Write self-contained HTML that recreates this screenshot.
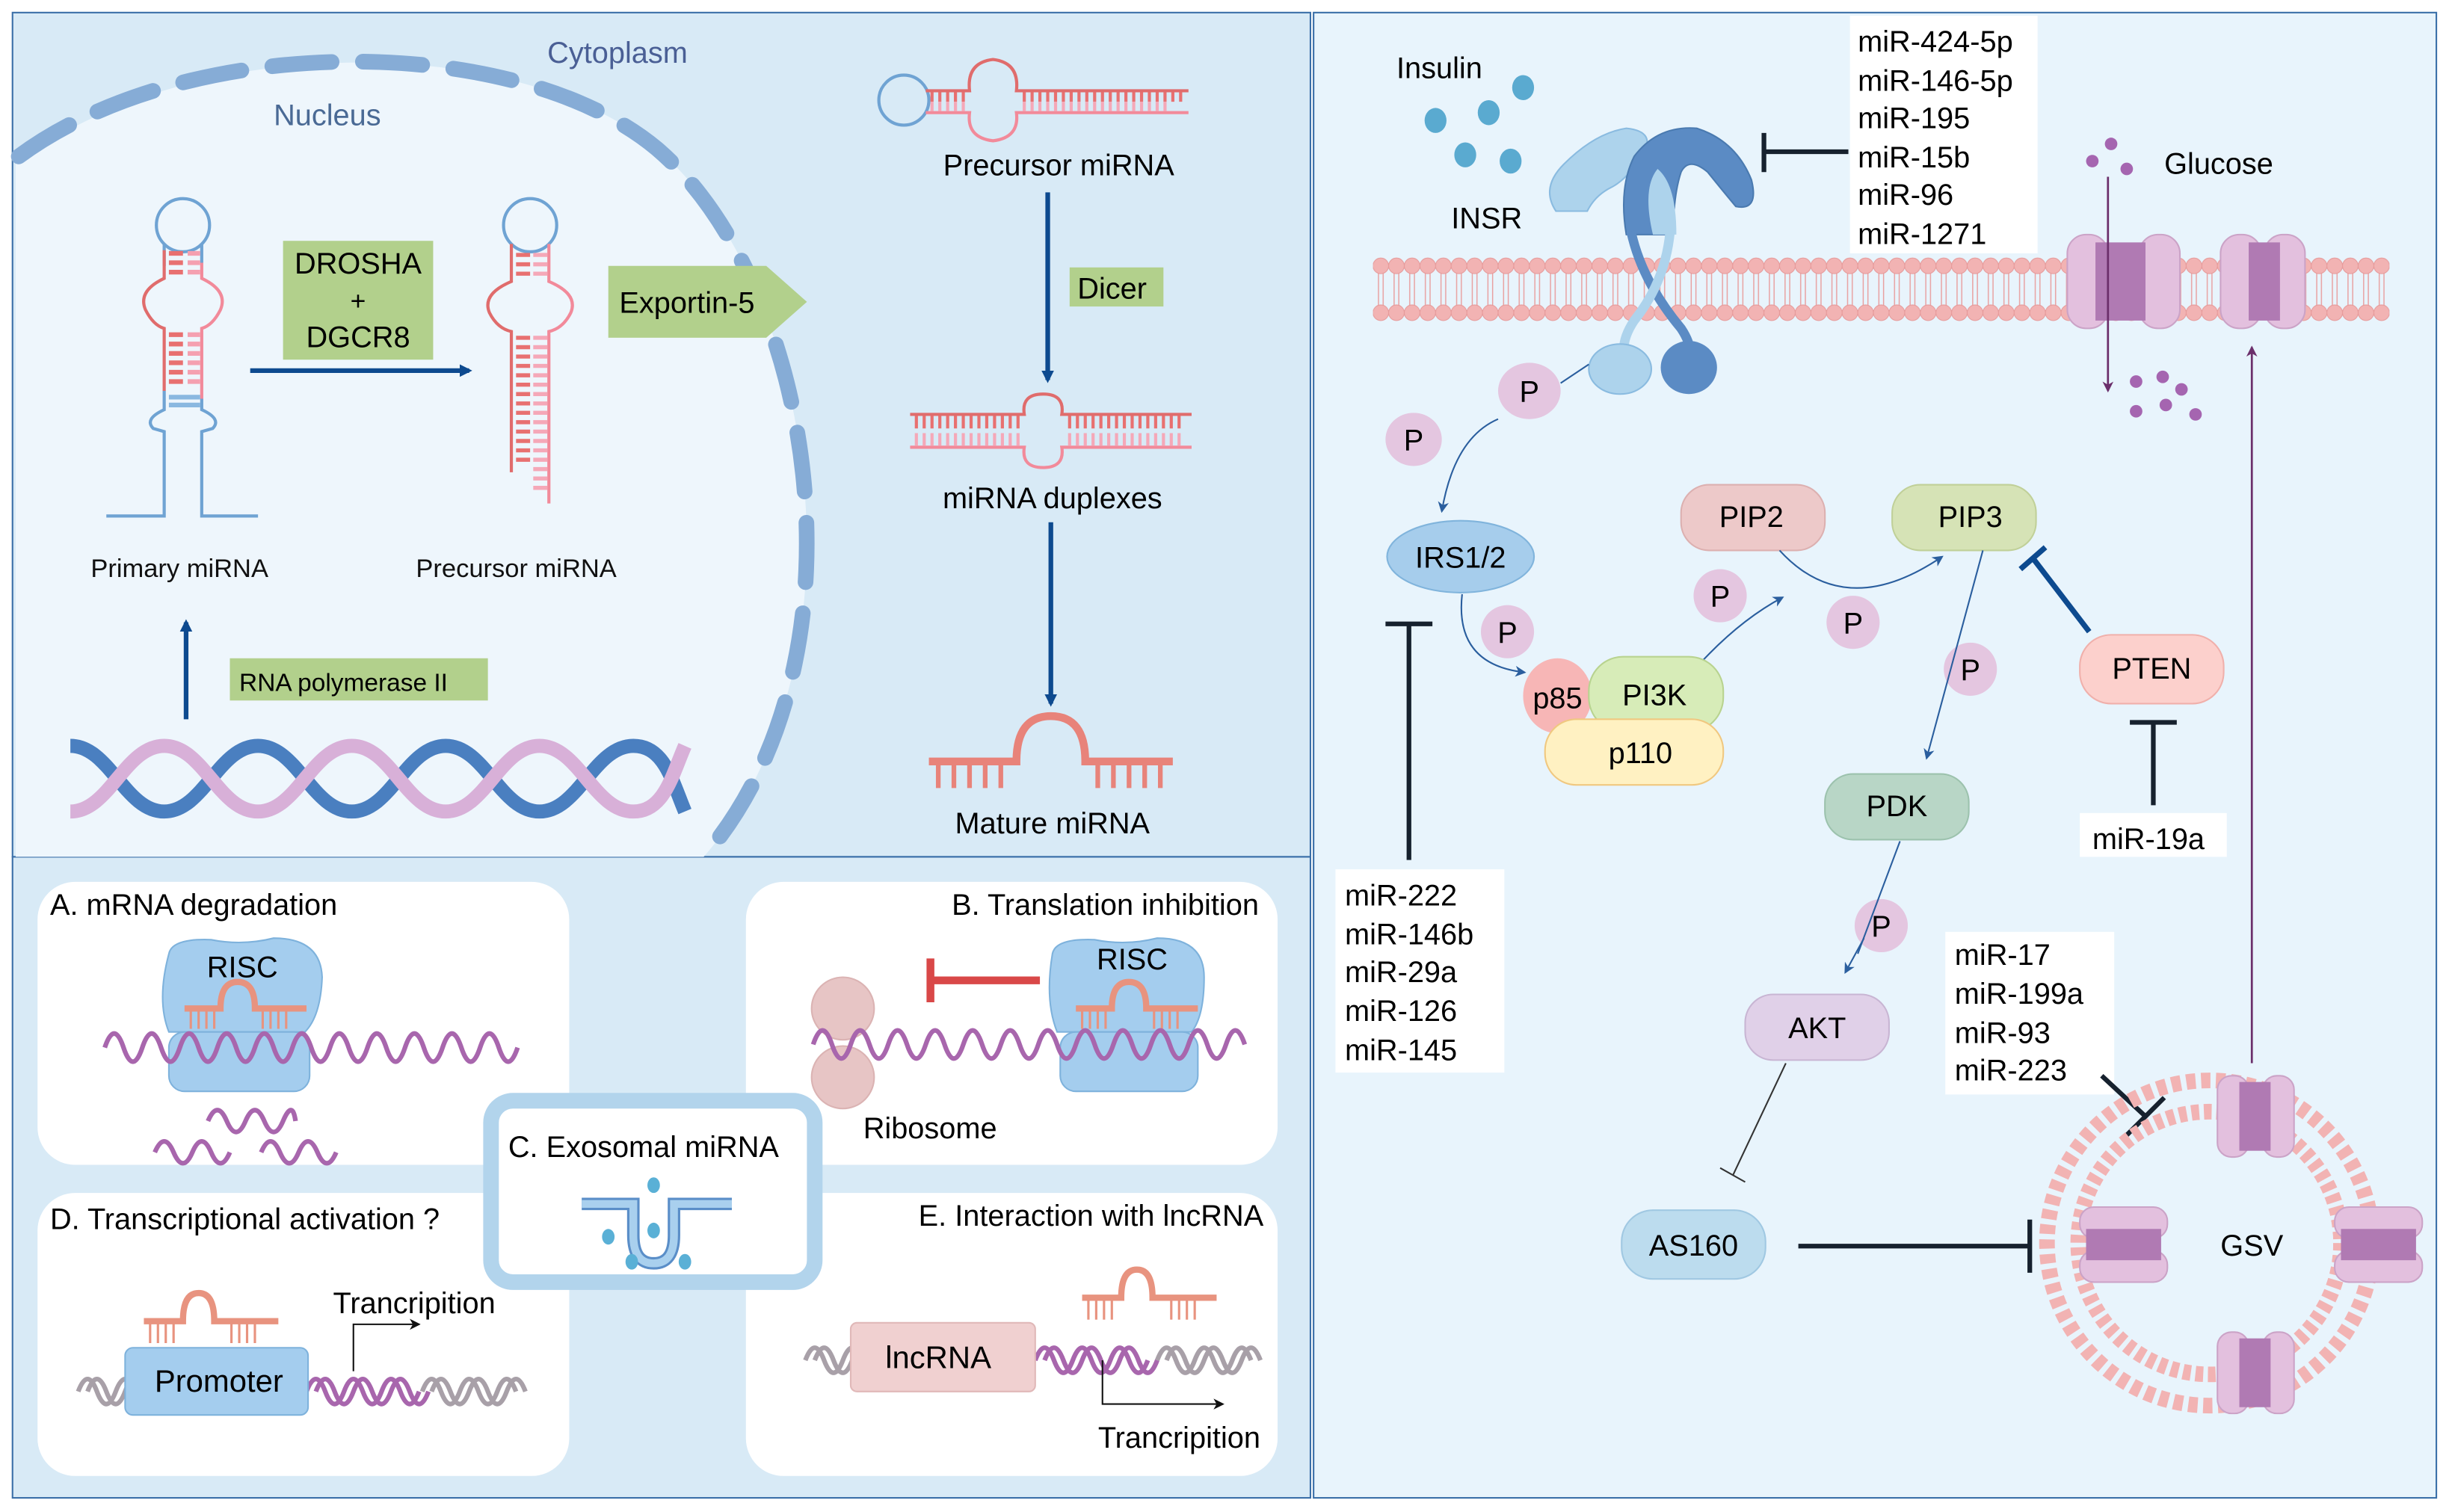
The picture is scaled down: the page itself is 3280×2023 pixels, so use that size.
<!DOCTYPE html>
<html><head><meta charset="utf-8"><style>
html,body{margin:0;padding:0;background:#fff}
svg{display:block}
text{font-family:"Liberation Sans",Arial,sans-serif}
</style></head><body>
<svg width="3280" height="2023" viewBox="0 0 1568 967" xmlns="http://www.w3.org/2000/svg">
<defs>
<pattern id="mem" x="878" y="0" width="10" height="967" patternUnits="userSpaceOnUse">
<line x1="3.5" y1="170" x2="3.5" y2="200" stroke="#e8a0a0" stroke-width="0.7"/>
<line x1="6.5" y1="170" x2="6.5" y2="200" stroke="#e8a0a0" stroke-width="0.7"/>
<circle cx="5" cy="170" r="5" fill="#f2b3b3" stroke="#e69a9a" stroke-width="0.5"/>
<circle cx="5" cy="200" r="5" fill="#f2b3b3" stroke="#e69a9a" stroke-width="0.5"/>
</pattern>
<marker id="ab" markerWidth="8" markerHeight="8" refX="6" refY="4" orient="auto" markerUnits="userSpaceOnUse"><path d="M0,0 L8,4 L0,8 z" fill="#0d4a8f"/></marker>
<marker id="as" markerWidth="7" markerHeight="7" refX="6" refY="3.5" orient="auto" markerUnits="userSpaceOnUse"><path d="M0,0 L7,3.5 L0,7 L2,3.5z" fill="#2a5e9e"/></marker>
<marker id="ap" markerWidth="7" markerHeight="7" refX="6" refY="3.5" orient="auto" markerUnits="userSpaceOnUse"><path d="M0,0 L7,3.5 L0,7 L2,3.5z" fill="#6b2f6b"/></marker>
<marker id="ak" markerWidth="7" markerHeight="7" refX="6" refY="3.5" orient="auto" markerUnits="userSpaceOnUse"><path d="M0,0 L7,3.5 L0,7 L2,3.5z" fill="#111"/></marker>
</defs>

<rect x="8" y="8" width="830" height="540" fill="#d8eaf6" stroke="#3a6fa8" stroke-width="1"/>
<rect x="8" y="548" width="830" height="410" fill="#d8eaf6" stroke="#3a6fa8" stroke-width="1"/>
<rect x="840" y="8" width="718" height="950" fill="#e8f4fc" stroke="#3a6fa8" stroke-width="1"/>

<path d="M10,105 C120,20 330,20 420,95 C520,180 560,420 450,548 L10,548 Z" fill="#eef6fc"/>
<path d="M12,100 C120,20 330,20 420,95 C520,180 560,420 450,548" fill="none" stroke="#86acd6" stroke-width="10" stroke-linecap="round" stroke-dasharray="38 20"/>
<text x="350" y="40" font-size="19" fill="#4a5f95">Cytoplasm</text>
<text x="175" y="80" font-size="19" fill="#4a6a95">Nucleus</text>

<g fill="none" stroke-width="2">
<circle cx="117" cy="144" r="17" stroke="#6fa3d3" fill="#eef6fc"/>
<path d="M105,156 V170 M129,156 V168" stroke="#6fa3d3"/>
<path d="M105,160 V178 Q88,186 93,198 Q98,208 105,210 V250" stroke="#e06c6c"/>
<path d="M129,168 V178 Q146,186 141,198 Q136,208 129,210 V255" stroke="#f28a9a"/>
<path d="M105,250 V262 Q92,268 98,274 L105,276 V330 H68 M129,255 V262 Q142,268 136,274 L129,276 V330 H165" stroke="#6fa3d3"/>
</g>
<g stroke="#e87070" stroke-width="3"><path d="M108,162h9M108,168h9M108,174h9M108,214h9M108,220h9M108,226h9M108,232h9M108,238h9M108,244h9"/></g>
<g stroke="#f5a0b0" stroke-width="3"><path d="M120,162h8M120,168h8M120,174h8M120,214h8M120,220h8M120,226h8M120,232h8M120,238h8M120,244h8"/></g>
<g stroke="#8ab8e0" stroke-width="3"><path d="M108,254h20M108,259h20"/></g>
<text x="58" y="369" font-size="16.5" fill="#111">Primary miRNA</text>

<rect x="181" y="154" width="96" height="76" fill="#b2d08c"/>
<text x="229" y="175" font-size="19" text-anchor="middle">DROSHA</text>
<text x="229" y="198" font-size="17" text-anchor="middle">+</text>
<text x="229" y="222" font-size="19" text-anchor="middle">DGCR8</text>
<line x1="160" y1="237" x2="300" y2="237" stroke="#0d4a8f" stroke-width="3" marker-end="url(#ab)"/>

<g fill="none" stroke-width="2">
<circle cx="339" cy="144" r="17" stroke="#6fa3d3" fill="#eef6fc"/>
<path d="M327,156 V180 Q308,188 313,200 Q318,210 327,212 V302" stroke="#e06c6c"/>
<path d="M351,156 V180 Q370,188 365,200 Q360,210 351,212 V322" stroke="#f28a9a"/>
</g>
<g stroke="#e87070" stroke-width="2.6"><path d="M330,163h9M330,169h9M330,175h9"/><path d="M330,216h9M330,222h9M330,228h9M330,234h9M330,240h9M330,246h9M330,252h9M330,258h9M330,264h9M330,270h9M330,276h9M330,282h9M330,288h9M330,294h9"/></g>
<g stroke="#f5a8b8" stroke-width="2.6"><path d="M341,163h9M341,169h9M341,175h9"/><path d="M341,216h9M341,222h9M341,228h9M341,234h9M341,240h9M341,246h9M341,252h9M341,258h9M341,264h9M341,270h9M341,276h9M341,282h9M341,288h9M341,294h9M341,300h9M341,306h9M341,312h9"/></g>
<text x="266" y="369" font-size="16.5" fill="#111">Precursor miRNA</text>

<path d="M389,170 H490 L516,193 L490,216 H389 Z" fill="#b2d08c"/>
<text x="396" y="200" font-size="19">Exportin-5</text>

<line x1="119" y1="460" x2="119" y2="398" stroke="#0d4a8f" stroke-width="3" marker-end="url(#ab)"/>
<rect x="147" y="421" width="165" height="27" fill="#b2d08c"/>
<text x="153" y="442" font-size="16">RNA polymerase  II</text>

<g fill="none" stroke-width="9">
<path d="M45,477 C70,477 80,519 105,519 C130,519 140,477 165,477 C190,477 200,519 225,519 C250,519 260,477 285,477 C310,477 320,519 345,519 C370,519 380,477 405,477 C425,477 430,500 438,519" stroke="#4a7fc0"/>
<path d="M45,519 C70,519 80,477 105,477 C130,477 140,519 165,519 C190,519 200,477 225,477 C250,477 260,519 285,519 C310,519 320,477 345,477 C370,477 380,519 405,519 C425,519 430,495 438,477" stroke="#d8b0d8"/>
</g>

<g fill="none" stroke-width="2">
<circle cx="578" cy="64" r="16" stroke="#6fa3d3"/>
<path d="M592,58 H620 Q618,40 635,38 Q652,40 650,58 H760" stroke="#e06c6c"/>
<path d="M592,72 H620 Q618,88 635,90 Q652,88 650,72 H760" stroke="#f28a9a"/>
</g>
<g stroke="#e87070" stroke-width="2"><path d="M596,59v6M601,59v6M606,59v6M611,59v6M616,59v6M655,59v6M660,59v6M665,59v6M670,59v6M675,59v6M680,59v6M685,59v6M690,59v6M695,59v6M700,59v6M705,59v6M710,59v6M715,59v6M720,59v6M725,59v6M730,59v6M735,59v6M740,59v6M745,59v6M750,59v6M755,59v6"/></g>
<g stroke="#f5a8b8" stroke-width="2"><path d="M596,65v6M601,65v6M606,65v6M611,65v6M616,65v6M655,65v6M660,65v6M665,65v6M670,65v6M675,65v6M680,65v6M685,65v6M690,65v6M695,65v6M700,65v6M705,65v6M710,65v6M715,65v6M720,65v6M725,65v6M730,65v6M735,65v6M740,65v6M745,65v6"/></g>
<text x="677" y="112" font-size="19" text-anchor="middle">Precursor miRNA</text>
<line x1="670" y1="123" x2="670" y2="243" stroke="#0d4a8f" stroke-width="3" marker-end="url(#ab)"/>
<rect x="684" y="171" width="60" height="25" fill="#b2d08c"/>
<text x="689" y="191" font-size="19">Dicer</text>
<g fill="none" stroke-width="2">
<path d="M582,265 H655 Q653,252 667,252 Q681,252 679,265 H762" stroke="#e06c6c"/>
<path d="M582,286 H655 Q653,299 667,299 Q681,299 679,286 H762" stroke="#f28a9a"/>
</g>
<g stroke="#e87070" stroke-width="2"><path d="M586,266v8M591,266v8M596,266v8M601,266v8M606,266v8M611,266v8M616,266v8M621,266v8M626,266v8M631,266v8M636,266v8M641,266v8M646,266v8M651,266v8M684,266v8M689,266v8M694,266v8M699,266v8M704,266v8M709,266v8M714,266v8M719,266v8M724,266v8M729,266v8M734,266v8M739,266v8M744,266v8M749,266v8M754,266v8"/></g>
<g stroke="#f5a8b8" stroke-width="2"><path d="M586,277v8M591,277v8M596,277v8M601,277v8M606,277v8M611,277v8M616,277v8M621,277v8M626,277v8M631,277v8M636,277v8M641,277v8M646,277v8M651,277v8M684,277v8M689,277v8M694,277v8M699,277v8M704,277v8M709,277v8M714,277v8M719,277v8M724,277v8M729,277v8M734,277v8M739,277v8M744,277v8M749,277v8M754,277v8"/></g>
<text x="673" y="325" font-size="19" text-anchor="middle">miRNA duplexes</text>
<line x1="672" y1="334" x2="672" y2="450" stroke="#0d4a8f" stroke-width="3" marker-end="url(#ab)"/>
<path d="M594,487 H650 Q650,458 672,458 Q694,458 694,487 H750" fill="none" stroke="#e8837a" stroke-width="5"/>
<g stroke="#e8837a" stroke-width="3"><path d="M600,489v15M610,489v15M620,489v15M630,489v15M640,489v15M702,489v15M712,489v15M722,489v15M732,489v15M742,489v15"/></g>
<text x="673" y="533" font-size="19" text-anchor="middle">Mature miRNA</text>

<rect x="24" y="564" width="340" height="181" rx="24" fill="#fff"/>
<rect x="477" y="564" width="340" height="181" rx="24" fill="#fff"/>
<rect x="24" y="763" width="340" height="181" rx="24" fill="#fff"/>
<rect x="477" y="763" width="340" height="181" rx="24" fill="#fff"/>
<rect x="314" y="704" width="207" height="116" rx="14" fill="#fff" stroke="#b2d4ec" stroke-width="10"/>
<text x="32" y="585" font-size="19">A. mRNA degradation</text>
<text x="805" y="585" font-size="19" text-anchor="end">B. Translation inhibition</text>
<text x="325" y="740" font-size="19">C. Exosomal miRNA</text>
<text x="32" y="786" font-size="19">D. Transcriptional activation ?</text>
<text x="808" y="784" font-size="19" text-anchor="end">E. Interaction with lncRNA</text>

<path d="M108,610 Q110,600 135,601 Q155,605 175,600 Q205,600 206,625 Q205,650 195,660 L108,660 Q100,640 108,610Z" fill="#a4cdee" stroke="#7eb2dc"/>
<rect x="108" y="660" width="90" height="38" rx="10" fill="#a4cdee" stroke="#7eb2dc"/>
<text x="155" y="625" font-size="19" text-anchor="middle">RISC</text>
<path d="M118,645 H141 Q141,628 152,628 Q163,628 163,645 H196" fill="none" stroke="#e8937f" stroke-width="4"/>
<g stroke="#e8937f" stroke-width="1.5"><path d="M122,646v12M127,646v12M132,646v12M137,646v12M168,646v12M173,646v12M178,646v12M183,646v12"/></g>
<path d="M67,670 q6,-18 12,0 t12,0 t12,0 t12,0 t12,0 t12,0 t12,0 t12,0 t12,0 t12,0 t12,0 t12,0 t12,0 t12,0 t12,0 t12,0 t12,0 t12,0 t12,0 t12,0 t12,0 t12,0" fill="none" stroke="#a866ad" stroke-width="3"/>
<path d="M133,717 q6,-14 12,0 t12,0 t12,0 t12,0 t8,0" fill="none" stroke="#a866ad" stroke-width="3"/>
<path d="M99,737 q6,-14 12,0 t12,0 t12,0 t12,0 M167,737 q6,-14 12,0 t12,0 t12,0 t12,0" fill="none" stroke="#a866ad" stroke-width="3"/>

<ellipse cx="539" cy="645" rx="20" ry="20" fill="#e7c5c5" stroke="#dbb3b3"/>
<ellipse cx="539" cy="689" rx="20" ry="20" fill="#e7c5c5" stroke="#dbb3b3"/>
<path d="M673,610 Q675,600 700,601 Q720,605 740,600 Q770,600 770,625 Q770,650 762,660 L676,660 Q668,640 673,610Z" fill="#a4cdee" stroke="#7eb2dc"/>
<rect x="678" y="660" width="88" height="38" rx="10" fill="#a4cdee" stroke="#7eb2dc"/>
<text x="724" y="620" font-size="19" text-anchor="middle">RISC</text>
<path d="M688,645 H711 Q711,628 722,628 Q733,628 733,645 H766" fill="none" stroke="#e8937f" stroke-width="4"/>
<g stroke="#e8937f" stroke-width="1.5"><path d="M692,646v12M697,646v12M702,646v12M707,646v12M738,646v12M743,646v12M748,646v12M753,646v12"/></g>
<path d="M520,668 q6,-18 12,0 t12,0 t12,0 t12,0 t12,0 t12,0 t12,0 t12,0 t12,0 t12,0 t12,0 t12,0 t12,0 t12,0 t12,0 t12,0 t12,0 t12,0 t12,0 t12,0 t12,0 t12,0 t12,0" fill="none" stroke="#a866ad" stroke-width="3"/>
<path d="M595,613 V641 M595,627 H665" stroke="#d94848" stroke-width="5" fill="none"/>
<text x="552" y="728" font-size="19">Ribosome</text>

<path d="M372,770 H405 V790 Q405,808 418,808 Q431,808 431,790 V770 H468" fill="none" stroke="#5a8ec8" stroke-width="8"/>
<path d="M372,770 H405 V790 Q405,808 418,808 Q431,808 431,790 V770 H468" fill="none" stroke="#a9d0ee" stroke-width="5"/>
<g fill="#5ab0d6"><ellipse cx="418" cy="758" rx="4" ry="5"/><ellipse cx="418" cy="787" rx="4" ry="5"/><ellipse cx="389" cy="791" rx="4" ry="5"/><ellipse cx="404" cy="807" rx="4" ry="5"/><ellipse cx="438" cy="807" rx="4" ry="5"/></g>

<path d="M50,890 q6,-16 12,0 t12,0 t12,0 M56,890 q6,-16 12,0 t12,0 t12,0 M270,890 q6,-16 12,0 t12,0 t12,0 t12,0 t12,0 M276,890 q6,-16 12,0 t12,0 t12,0 t12,0 t12,0" fill="none" stroke="#a8a0a8" stroke-width="3"/>
<path d="M196,890 q6,-16 12,0 t12,0 t12,0 t12,0 t12,0 t12,0 M202,890 q6,-16 12,0 t12,0 t12,0 t12,0 t12,0 t12,0" fill="none" stroke="#a866ad" stroke-width="3"/>
<rect x="80" y="862" width="117" height="43" rx="5" fill="#a4cdee" stroke="#7eb2dc"/>
<text x="140" y="890" font-size="20" text-anchor="middle">Promoter</text>
<path d="M92,845 H117 Q117,827 127,827 Q137,827 137,845 H178" fill="none" stroke="#e8937f" stroke-width="4"/>
<g stroke="#e8937f" stroke-width="1.5"><path d="M96,846v13M101,846v13M106,846v13M111,846v13M148,846v13M153,846v13M158,846v13M163,846v13"/></g>
<path d="M226,877 V847 H268" fill="none" stroke="#111" stroke-width="1" marker-end="url(#ak)"/>
<text x="213" y="840" font-size="19">Trancripition</text>

<path d="M515,870 q6,-16 12,0 t12,0 t12,0 M521,870 q6,-16 12,0 t12,0 t12,0 M740,870 q6,-16 12,0 t12,0 t12,0 t12,0 t12,0 M746,870 q6,-16 12,0 t12,0 t12,0 t12,0 t12,0" fill="none" stroke="#a8a0a8" stroke-width="3"/>
<path d="M662,870 q6,-16 12,0 t12,0 t12,0 t12,0 t12,0 t12,0 M668,870 q6,-16 12,0 t12,0 t12,0 t12,0 t12,0 t12,0" fill="none" stroke="#a866ad" stroke-width="3"/>
<rect x="544" y="846" width="118" height="44" rx="4" fill="#f0d0d0" stroke="#e0b8b8"/>
<text x="600" y="875" font-size="20" text-anchor="middle">lncRNA</text>
<path d="M692,830 H717 Q717,812 727,812 Q737,812 737,830 H778" fill="none" stroke="#e8937f" stroke-width="4"/>
<g stroke="#e8937f" stroke-width="1.5"><path d="M696,831v13M701,831v13M706,831v13M711,831v13M749,831v13M754,831v13M759,831v13M764,831v13"/></g>
<path d="M705,870 V898 H782" fill="none" stroke="#111" stroke-width="1" marker-end="url(#ak)"/>
<text x="806" y="926" font-size="19" text-anchor="end">Trancripition</text>

<rect x="878" y="163" width="650" height="44" fill="url(#mem)"/>
<text x="893" y="50" font-size="19">Insulin</text>
<g fill="#5aaad0"><ellipse cx="974" cy="56" rx="7" ry="8"/><ellipse cx="918" cy="77" rx="7" ry="8"/><ellipse cx="952" cy="72" rx="7" ry="8"/><ellipse cx="937" cy="99" rx="7" ry="8"/><ellipse cx="966" cy="103" rx="7" ry="8"/></g>
<text x="928" y="146" font-size="19">INSR</text>
<path d="M995,135 Q985,120 1000,105 Q1020,85 1040,82 Q1060,84 1050,100 Q1040,115 1030,120 Q1020,125 1015,135 Z" fill="#add3ec" stroke="#8abbe0"/>
<path d="M1040,150 Q1035,120 1045,100 Q1060,80 1085,82 Q1110,90 1120,115 Q1125,135 1110,132 Q1100,120 1092,110 Q1080,100 1075,110 Q1070,125 1070,150 Z" fill="#5b8bc4" stroke="#4a7ab0"/>
<path d="M1057,150 Q1050,120 1060,108 Q1072,118 1072,150Z" fill="#add3ec"/>
<path d="M1043,148 Q1050,180 1075,210 Q1085,225 1078,235" fill="none" stroke="#5b8bc4" stroke-width="6"/>
<path d="M1068,148 Q1065,180 1045,205 Q1035,220 1040,232" fill="none" stroke="#add3ec" stroke-width="6"/>
<ellipse cx="1036" cy="236" rx="20" ry="16" fill="#add3ec" stroke="#8abbe0"/>
<ellipse cx="1080" cy="235" rx="18" ry="17" fill="#5b8bc4"/>
<path d="M1128,85 V110 M1128,97 H1182" stroke="#16212e" stroke-width="3" fill="none"/>
<rect x="1183" y="10" width="120" height="152" fill="#fff"/>
<g font-size="19"><text x="1188" y="33">miR-424-5p</text><text x="1188" y="58">miR-146-5p</text><text x="1188" y="82">miR-195</text><text x="1188" y="107">miR-15b</text><text x="1188" y="131">miR-96</text><text x="1188" y="156">miR-1271</text></g>
<g>
<rect x="1322" y="150" width="26" height="60" rx="12" fill="#e3c0de" stroke="#cba3c7"/>
<rect x="1368" y="150" width="26" height="60" rx="12" fill="#e3c0de" stroke="#cba3c7"/>
<rect x="1340" y="155" width="32" height="50" fill="#b07ab3"/>
<rect x="1420" y="150" width="26" height="60" rx="12" fill="#e3c0de" stroke="#cba3c7"/>
<rect x="1448" y="150" width="26" height="60" rx="12" fill="#e3c0de" stroke="#cba3c7"/>
<rect x="1438" y="155" width="20" height="50" fill="#b07ab3"/>
</g>
<text x="1384" y="111" font-size="19">Glucose</text>
<g fill="#a565b0"><circle cx="1338" cy="103" r="4"/><circle cx="1350" cy="92" r="4"/><circle cx="1360" cy="108" r="4"/><circle cx="1366" cy="244" r="4"/><circle cx="1383" cy="241" r="4"/><circle cx="1395" cy="249" r="4"/><circle cx="1366" cy="263" r="4"/><circle cx="1385" cy="259" r="4"/><circle cx="1404" cy="265" r="4"/></g>
<line x1="1348" y1="113" x2="1348" y2="250" stroke="#6b2f6b" stroke-width="1.3" marker-end="url(#ap)"/>
<line x1="1440" y1="680" x2="1440" y2="222" stroke="#6b2f6b" stroke-width="1.3" marker-end="url(#ap)"/>

<g fill="#e4c6e0">
<ellipse cx="978" cy="250" rx="20" ry="18"/><ellipse cx="904" cy="281" rx="18" ry="17"/>
<ellipse cx="964" cy="404" rx="17" ry="17"/><ellipse cx="1100" cy="381" rx="17" ry="17"/>
<ellipse cx="1185" cy="398" rx="17" ry="17"/><ellipse cx="1260" cy="428" rx="17" ry="17"/>
<ellipse cx="1203" cy="592" rx="17" ry="17"/>
</g>
<g font-size="19" text-anchor="middle"><text x="978" y="257">P</text><text x="904" y="288">P</text><text x="964" y="411">P</text><text x="1100" y="388">P</text><text x="1185" y="405">P</text><text x="1260" y="435">P</text><text x="1203" y="599">P</text></g>
<line x1="998" y1="245" x2="1016" y2="233" stroke="#2a5e9e" stroke-width="1"/>
<path d="M958,268 Q930,280 922,327" fill="none" stroke="#2a5e9e" stroke-width="1" marker-end="url(#as)"/>

<ellipse cx="934" cy="356" rx="47" ry="23" fill="#a6cdec" stroke="#80b4dc"/>
<text x="934" y="363" font-size="19" text-anchor="middle">IRS1/2</text>
<path d="M935,380 Q930,425 975,430" fill="none" stroke="#2a5e9e" stroke-width="1" marker-end="url(#as)"/>
<rect x="1075" y="310" width="92" height="42" rx="18" fill="#edc9c9" stroke="#dcb0b0"/>
<text x="1120" y="337" font-size="19" text-anchor="middle">PIP2</text>
<rect x="1210" y="310" width="92" height="42" rx="18" fill="#d6e3b6" stroke="#c0d098"/>
<text x="1260" y="337" font-size="19" text-anchor="middle">PIP3</text>
<path d="M1138,352 Q1180,398 1242,356" fill="none" stroke="#2a5e9e" stroke-width="1" marker-end="url(#as)"/>
<path d="M1082,430 Q1110,398 1140,382" fill="none" stroke="#2a5e9e" stroke-width="1" marker-end="url(#as)"/>
<ellipse cx="996" cy="445" rx="22" ry="24" fill="#f7b6b6"/>
<rect x="1016" y="420" width="86" height="48" rx="22" fill="#d7ecb8" stroke="#b8d38f"/>
<text x="1058" y="451" font-size="19" text-anchor="middle">PI3K</text>
<text x="996" y="453" font-size="19" text-anchor="middle">p85</text>
<rect x="988" y="460" width="114" height="42" rx="20" fill="#fff1c2" stroke="#f0c880"/>
<text x="1049" y="488" font-size="19" text-anchor="middle">p110</text>

<path d="M1268,352 L1232,485" stroke="#2a5e9e" stroke-width="1" marker-end="url(#as)"/>
<path d="M1292,364 L1308,350 M1300,357 L1336,404" stroke="#0d4a8f" stroke-width="3.5" fill="none"/>
<rect x="1330" y="406" width="92" height="44" rx="20" fill="#fcd0cc" stroke="#f0b0ab"/>
<text x="1376" y="434" font-size="19" text-anchor="middle">PTEN</text>
<path d="M1362,462 H1392 M1377,462 V515" stroke="#16212e" stroke-width="3" fill="none"/>
<rect x="1330" y="520" width="94" height="28" fill="#fff"/>
<text x="1338" y="543" font-size="19">miR-19a</text>

<rect x="1167" y="495" width="92" height="42" rx="18" fill="#b8d6c6" stroke="#9cc2ad"/>
<text x="1213" y="522" font-size="19" text-anchor="middle">PDK</text>
<path d="M1215,538 L1188,610" stroke="#2a5e9e" stroke-width="1"/>
<path d="M1192,600 L1180,622" stroke="#2a5e9e" stroke-width="1" marker-end="url(#as)"/>
<rect x="1116" y="636" width="92" height="42" rx="18" fill="#e0d0e8" stroke="#c8b5d3"/>
<text x="1162" y="664" font-size="19" text-anchor="middle">AKT</text>
<path d="M1142,680 L1108,752 M1100,747 L1116,756" stroke="#333" stroke-width="1" fill="none"/>
<rect x="1037" y="774" width="92" height="44" rx="20" fill="#bcdcee" stroke="#a0c8e2"/>
<text x="1083" y="803" font-size="19" text-anchor="middle">AS160</text>
<path d="M1150,797 H1298 M1298,780 V814" stroke="#16212e" stroke-width="3" fill="none"/>

<path d="M886,399 H916 M901,399 V550" stroke="#16212e" stroke-width="3" fill="none"/>
<rect x="854" y="556" width="108" height="130" fill="#fff"/>
<g font-size="19"><text x="860" y="579">miR-222</text><text x="860" y="604">miR-146b</text><text x="860" y="628">miR-29a</text><text x="860" y="653">miR-126</text><text x="860" y="678">miR-145</text></g>
<rect x="1244" y="596" width="108" height="104" fill="#fff"/>
<g font-size="19"><text x="1250" y="617">miR-17</text><text x="1250" y="642">miR-199a</text><text x="1250" y="667">miR-93</text><text x="1250" y="691">miR-223</text></g>
<path d="M1344,688 L1372,714 M1360,726 L1384,702" stroke="#16212e" stroke-width="3" fill="none"/>

<circle cx="1413" cy="795" r="104" fill="none" stroke="#f2b3b3" stroke-width="10" stroke-dasharray="6 3.5"/>
<circle cx="1413" cy="795" r="84" fill="none" stroke="#f2b3b3" stroke-width="10" stroke-dasharray="5 3"/>
<circle cx="1413" cy="795" r="79" fill="#e8f4fc"/>
<text x="1440" y="803" font-size="19" text-anchor="middle">GSV</text>
<g>
<rect x="1418" y="688" width="20" height="52" rx="9" fill="#e3c0de" stroke="#cba3c7"/><rect x="1447" y="688" width="20" height="52" rx="9" fill="#e3c0de" stroke="#cba3c7"/><rect x="1432" y="692" width="20" height="44" fill="#b07ab3"/>
<rect x="1418" y="852" width="20" height="52" rx="9" fill="#e3c0de" stroke="#cba3c7"/><rect x="1447" y="852" width="20" height="52" rx="9" fill="#e3c0de" stroke="#cba3c7"/><rect x="1432" y="856" width="20" height="44" fill="#b07ab3"/>
<rect x="1330" y="772" width="56" height="20" rx="9" fill="#e3c0de" stroke="#cba3c7"/><rect x="1330" y="800" width="56" height="20" rx="9" fill="#e3c0de" stroke="#cba3c7"/><rect x="1334" y="786" width="48" height="20" fill="#b07ab3"/>
<rect x="1493" y="772" width="56" height="20" rx="9" fill="#e3c0de" stroke="#cba3c7"/><rect x="1493" y="800" width="56" height="20" rx="9" fill="#e3c0de" stroke="#cba3c7"/><rect x="1497" y="786" width="48" height="20" fill="#b07ab3"/>
</g>
</svg>
</body></html>
